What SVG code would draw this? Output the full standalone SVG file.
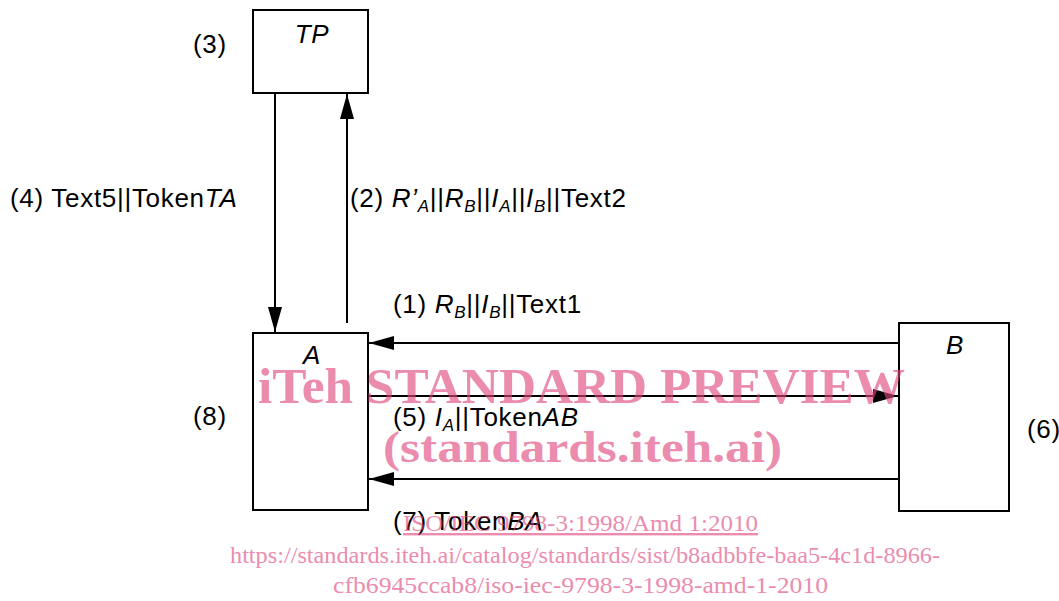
<svg xmlns="http://www.w3.org/2000/svg" width="1059" height="601" viewBox="0 0 1059 601">
<style>
  .box { fill: #fff; stroke: #000; stroke-width: 2; }
  .ln { stroke: #000; stroke-width: 2; fill: none; }
  .t { font-family: "Liberation Sans", Arial, sans-serif; font-size: 26px; letter-spacing: 0.7px; fill: #000; }
  .i { font-style: italic; }
  .s { font-size: 17px; font-style: italic; }
  .wm { font-family: "Liberation Serif", "Times New Roman", serif; fill: #e0467e; opacity: 0.62; }
  .wb { font-weight: bold; }
</style>
<defs>
  <marker id="ah" viewBox="0 0 25 14" refX="25" refY="7" markerWidth="25" markerHeight="14" markerUnits="userSpaceOnUse" orient="auto">
    <path d="M0,0 L25,7 L0,14 Z" fill="#000"/>
  </marker>
</defs>
<rect width="1059" height="601" fill="#fff"/>

<g id="TP">
  <rect class="box" x="253" y="10" width="115" height="83"/>
  <text class="t i" x="312" y="43" text-anchor="middle">TP</text>
</g>
<g id="A">
  <rect class="box" x="253" y="333" width="115" height="177"/>
  <text class="t i" x="312" y="364" text-anchor="middle">A</text>
</g>
<g id="B">
  <rect class="box" x="899" y="323" width="110" height="188"/>
  <text class="t i" x="955" y="354" text-anchor="middle">B</text>
</g>

<g id="side-labels">
  <text class="t" x="193" y="53">(3)</text>
  <text class="t" x="193" y="425">(8)</text>
  <text class="t" x="1027" y="438">(6)</text>
</g>

<g id="connectors">
  <line class="ln" x1="275" y1="93" x2="275" y2="332" marker-end="url(#ah)"/>
  <line class="ln" x1="347" y1="323" x2="347" y2="94" marker-end="url(#ah)"/>
  <line class="ln" x1="899" y1="343" x2="369" y2="343" marker-end="url(#ah)"/>
  <line class="ln" x1="368" y1="396" x2="898" y2="396" marker-end="url(#ah)"/>
  <line class="ln" x1="899" y1="479" x2="369" y2="479" marker-end="url(#ah)"/>
</g>

<g id="connector-labels">
  <text class="t" x="10" y="207">(4) Text5||Token<tspan class="i">TA</tspan></text>
  <text class="t" x="350" y="207">(2) <tspan class="i">R’</tspan><tspan class="s" dy="5">A</tspan><tspan dy="-5">||</tspan><tspan class="i">R</tspan><tspan class="s" dy="5">B</tspan><tspan dy="-5">||</tspan><tspan class="i">I</tspan><tspan class="s" dy="5">A</tspan><tspan dy="-5">||</tspan><tspan class="i">I</tspan><tspan class="s" dy="5">B</tspan><tspan dy="-5">||Text2</tspan></text>
  <text class="t" x="393" y="313">(1) <tspan class="i">R</tspan><tspan class="s" dy="5">B</tspan><tspan dy="-5">||</tspan><tspan class="i">I</tspan><tspan class="s" dy="5">B</tspan><tspan dy="-5">||Text1</tspan></text>
  <text class="t" x="393" y="426">(5) <tspan class="i">I</tspan><tspan class="s" dy="5">A</tspan><tspan dy="-5">||Token</tspan><tspan class="i">AB</tspan></text>
  <text class="t" x="393" y="530">(7) Token<tspan class="i">BA</tspan></text>
</g>

<g id="watermark">
  <text class="wm wb" x="258" y="403" font-size="50" textLength="647" lengthAdjust="spacingAndGlyphs">iTeh STANDARD PREVIEW</text>
  <text class="wm wb" x="383" y="462" font-size="44" textLength="399" lengthAdjust="spacingAndGlyphs">(standards.iteh.ai)</text>
  <text class="wm" x="403" y="531" font-size="24" text-decoration="underline" textLength="355" lengthAdjust="spacingAndGlyphs">ISO/IEC 9798-3:1998/Amd 1:2010</text>
  <text class="wm" x="230" y="563" font-size="24" textLength="710" lengthAdjust="spacingAndGlyphs">https://standards.iteh.ai/catalog/standards/sist/b8adbbfe-baa5-4c1d-8966-</text>
  <text class="wm" x="333" y="593" font-size="24" textLength="495" lengthAdjust="spacingAndGlyphs">cfb6945ccab8/iso-iec-9798-3-1998-amd-1-2010</text>
</g>
</svg>
